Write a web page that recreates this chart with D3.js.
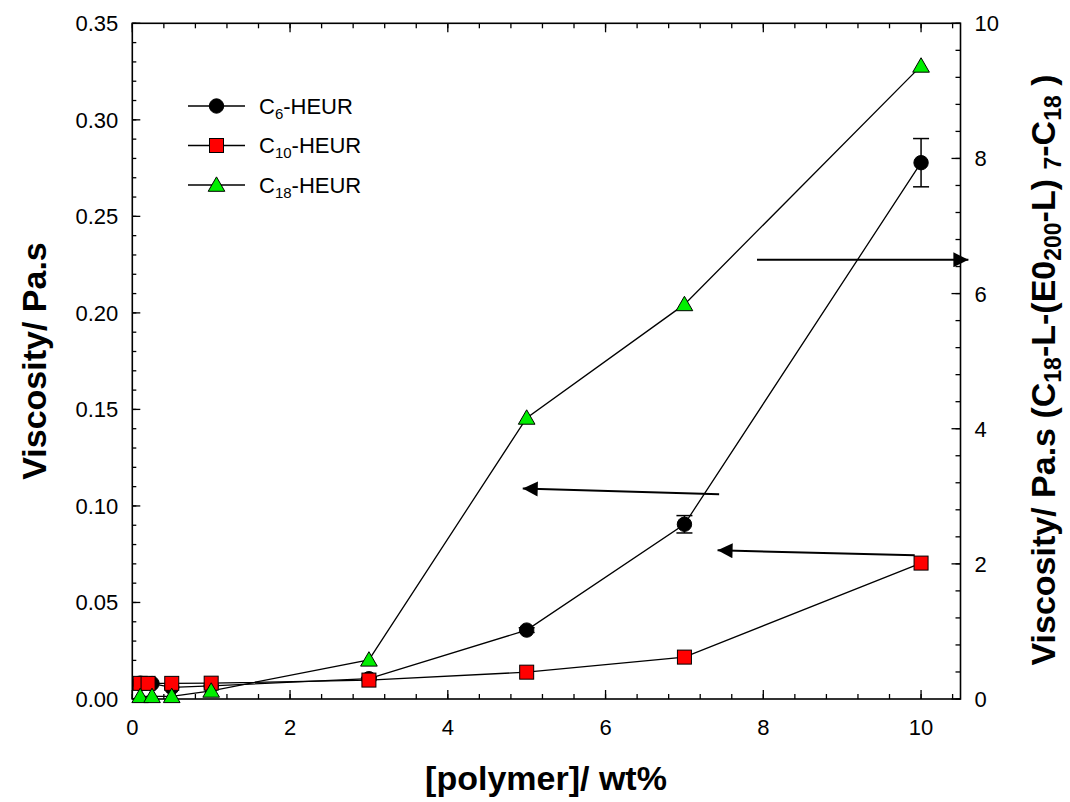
<!DOCTYPE html>
<html><head><meta charset="utf-8">
<script src="https://cdn.jsdelivr.net/npm/d3@7"></script>
<style>body{margin:0;background:#fff}svg{display:block}text{font-family:"Liberation Sans",Arial,sans-serif}</style>
</head><body><svg id="c" width="1070" height="802"></svg>
<script>
// data
const c6X = [0.1, 0.25, 0.5, 1, 3, 5, 7, 10];
const c6Y = [0.0082, 0.0080, 0.0060, 0.0068, 0.0105, 0.0357, 0.0905, 0.2778];
const c6Err = [0, 0, 0, 0, 0.0005, 0.0012, 0.0045, 0.0125];
const c10X = [0.1, 0.2, 0.5, 1, 3, 5, 7, 10];
const c10Y = [0.0081, 0.0081, 0.0081, 0.0082, 0.0098, 0.0139, 0.0217, 0.0704];
const c18X = [0.1, 0.25, 0.5, 1, 3, 5, 7, 10];
const c18Y = [0.04, 0.04, 0.04, 0.12, 0.58, 4.16, 5.84, 9.37]; // right axis
const xTicks = [0, 2, 4, 6, 8, 10];
const yLeftTicks = [0, 0.05, 0.10, 0.15, 0.20, 0.25, 0.30, 0.35];
const yRightTicks = [0, 2, 4, 6, 8, 10];
const legendNames = [["C", "6", "-HEUR"], ["C", "10", "-HEUR"], ["C", "18", "-HEUR"]];

const svg = d3.select("#c");
const L = 132.3, R = 960.5, T = 23.3, B = 699;
const x = d3.scaleLinear().domain([0, 10.5]).range([L, R]);
const yL = d3.scaleLinear().domain([0, 0.35]).range([B, T]);
const yR = d3.scaleLinear().domain([0, 10]).range([B, T]);

const defs = svg.append("defs");
defs.append("marker").attr("id", "ah").attr("viewBox", "0 0 10 10").attr("refX", 10).attr("refY", 5)
  .attr("markerWidth", 8.5).attr("markerHeight", 7.5).attr("markerUnits", "strokeWidth").attr("orient", "auto")
  .append("path").attr("d", "M0,0 L10,5 L0,10 Z").attr("fill", "#000");

const g = svg.append("g");
const tickFmt2 = d3.format(".2f");
function ticksAll(step, max) { const a = []; for (let v = 0; v <= max + 1e-9; v += step) a.push(+v.toFixed(4)); return a; }
const xMinor = ticksAll(0.4, 10.5);
const yLMinor = ticksAll(0.01, 0.35);
const yRMinor = ticksAll(0.4, 10);

const ax = g.append("g").attr("stroke", "#000").attr("stroke-width", 1.3);
xMinor.forEach(v => {
  ax.append("line").attr("x1", x(v)).attr("x2", x(v)).attr("y1", B).attr("y2", B - 5);
  ax.append("line").attr("x1", x(v)).attr("x2", x(v)).attr("y1", T).attr("y2", T + 5);
});
xTicks.forEach(v => {
  ax.append("line").attr("x1", x(v)).attr("x2", x(v)).attr("y1", B).attr("y2", B - 9);
  ax.append("line").attr("x1", x(v)).attr("x2", x(v)).attr("y1", T).attr("y2", T + 9);
});
yLMinor.forEach(v => ax.append("line").attr("x1", L).attr("x2", L + 4).attr("y1", yL(v)).attr("y2", yL(v)));
yLeftTicks.forEach(v => ax.append("line").attr("x1", L).attr("x2", L + 8).attr("y1", yL(v)).attr("y2", yL(v)));
yRMinor.forEach(v => ax.append("line").attr("x1", R).attr("x2", R - 5).attr("y1", yR(v)).attr("y2", yR(v)));
yRightTicks.forEach(v => ax.append("line").attr("x1", R).attr("x2", R - 9).attr("y1", yR(v)).attr("y2", yR(v)));
g.append("rect").attr("x", L).attr("y", T).attr("width", R - L).attr("height", B - T)
  .attr("fill", "none").attr("stroke", "#000").attr("stroke-width", 1.6);

// tick labels
const tl = g.append("g").attr("font-size", 22).attr("fill", "#000");
xTicks.forEach(v => tl.append("text").attr("x", x(v)).attr("y", B + 36).attr("text-anchor", "middle").text(v));
yLeftTicks.forEach(v => tl.append("text").attr("x", L - 14).attr("y", yL(v) + 8).attr("text-anchor", "end").text(tickFmt2(v)));
yRightTicks.forEach(v => tl.append("text").attr("x", R + 14).attr("y", yR(v) + 8).attr("text-anchor", "start").text(v));

// axis titles
g.append("text").attr("x", 546).attr("y", 790).attr("text-anchor", "middle").attr("font-size", 34).attr("font-weight", "bold").text("[polymer]/ wt%");
g.append("text").attr("transform", "translate(46,361) rotate(-90)").attr("text-anchor", "middle").attr("font-size", 34).attr("font-weight", "bold").text("Viscosity/ Pa.s");
const rt = g.append("text").attr("transform", "translate(1055,370) rotate(-90)").attr("text-anchor", "middle").attr("font-size", 34).attr("font-weight", "bold");
const rparts = [["Viscosity/ Pa.s (C", 0], ["18", 1], ["-L-(E0", 0], ["200", 1], ["-L) ", 0], ["7", 1], ["-C", 0], ["18", 1], [" )", 0]];
rparts.forEach(([t, s]) => {
  const ts = rt.append("tspan").text(t);
  if (s) ts.attr("font-size", 23).attr("baseline-shift", "-24%");
});

// lines
const lineL = d3.line().x(d => x(d[0])).y(d => yL(d[1]));
const lineR = d3.line().x(d => x(d[0])).y(d => yR(d[1]));
const c6 = c6X.map((v, i) => [v, c6Y[i], c6Err[i]]);
const c10 = c10X.map((v, i) => [v, c10Y[i]]);
const c18 = c18X.map((v, i) => [v, c18Y[i]]);
const dl = svg.append("g").attr("fill", "none").attr("stroke", "#000").attr("stroke-width", 1.3);
dl.append("path").attr("d", lineL(c6));
dl.append("path").attr("d", lineL(c10));
dl.append("path").attr("d", lineR(c18));

// error bars
const eb = svg.append("g").attr("stroke", "#000").attr("stroke-width", 1.5);
c6.filter(d => d[2] > 0).forEach(d => {
  const cx = x(d[0]);
  eb.append("line").attr("x1", cx).attr("x2", cx).attr("y1", yL(d[1] - d[2])).attr("y2", yL(d[1] + d[2]));
  [d[1] - d[2], d[1] + d[2]].forEach(v => eb.append("line").attr("x1", cx - 8).attr("x2", cx + 8).attr("y1", yL(v)).attr("y2", yL(v)));
});

// markers
const tri = d3.symbol().type(d3.symbolTriangle).size(120);
function drawCircle(sel, cx, cy) { sel.append("circle").attr("cx", cx).attr("cy", cy).attr("r", 7.2).attr("fill", "#000").attr("stroke", "#000"); }
function drawSquare(sel, cx, cy) { sel.append("rect").attr("x", cx - 7).attr("y", cy - 7).attr("width", 14).attr("height", 14).attr("fill", "#ff0000").attr("stroke", "#000").attr("stroke-width", 1); }
function drawTri(sel, cx, cy) { sel.append("path").attr("d", tri()).attr("transform", `translate(${cx},${cy + 1.5})`).attr("fill", "#00ee00").attr("stroke", "#000").attr("stroke-width", 1); }
const mk = svg.append("g");
c6.forEach(d => drawCircle(mk, x(d[0]), yL(d[1])));
c10.forEach(d => drawSquare(mk, x(d[0]), yL(d[1])));
c18.forEach(d => drawTri(mk, x(d[0]), yR(d[1])));

// arrows (annotation, in data coords)
const ar = svg.append("g").attr("stroke", "#000").attr("stroke-width", 2).attr("marker-end", "url(#ah)");
ar.append("line").attr("x1", x(7.92)).attr("y1", yR(6.5)).attr("x2", x(10.6)).attr("y2", yR(6.5));
ar.append("line").attr("x1", x(7.44)).attr("y1", yL(0.106)).attr("x2", x(4.95)).attr("y2", yL(0.109));
ar.append("line").attr("x1", x(9.92)).attr("y1", yL(0.0744)).attr("x2", x(7.42)).attr("y2", yL(0.077));

// legend
const lg = svg.append("g");
const lgY = [106, 145.5, 185];
const drawers = [drawCircle, drawSquare, drawTri];
legendNames.forEach((n, i) => {
  lg.append("line").attr("x1", 188).attr("x2", 245).attr("y1", lgY[i]).attr("y2", lgY[i]).attr("stroke", "#000").attr("stroke-width", 1.3);
  drawers[i](lg, 216.5, lgY[i]);
  const t = lg.append("text").attr("x", 259).attr("y", lgY[i] + 7.5).attr("font-size", 22);
  t.append("tspan").text(n[0]);
  t.append("tspan").text(n[1]).attr("font-size", 15).attr("baseline-shift", "-35%");
  t.append("tspan").text(n[2]);
});
</script></body></html>
